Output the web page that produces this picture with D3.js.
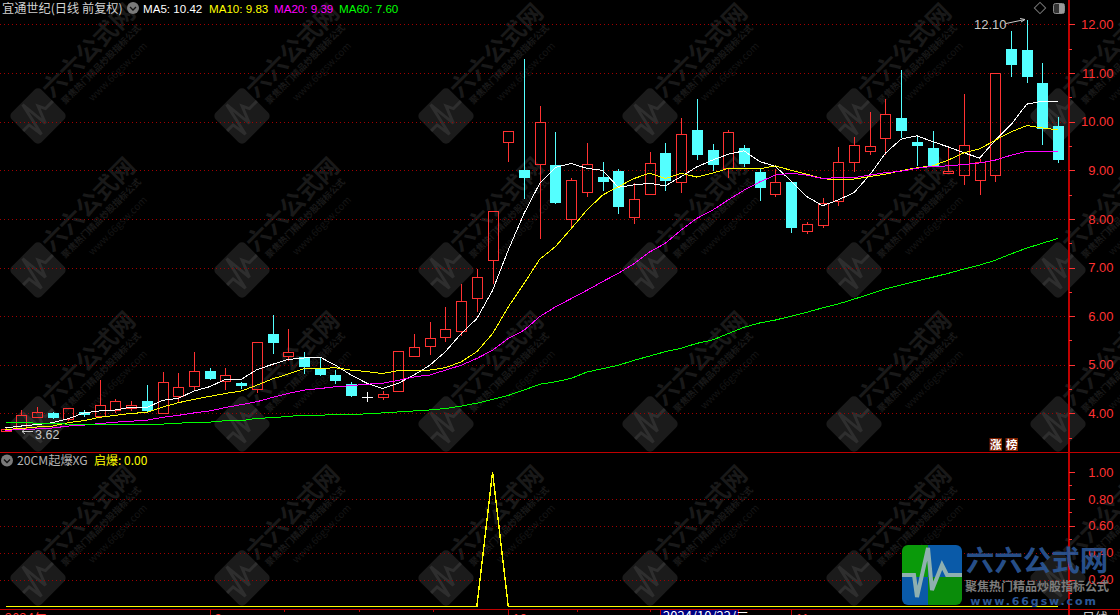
<!DOCTYPE html>
<html><head><meta charset="utf-8">
<style>html,body{margin:0;padding:0;background:#000;overflow:hidden}svg{display:block}
text{font-family:"Liberation Sans","Noto Sans CJK SC",sans-serif}
</style>
<script src="https://cdn.jsdelivr.net/npm/d3@7/dist/d3.min.js"></script></head><body><div id="c"></div>
<script>
const opens=[3.64,3.675,3.928,3.998,3.875,4.039,3.928,4.06,4.121,4.251,3.998,4.36,4.545,4.868,4.656,4.621,4.492,5.63,5.163,5.15,4.924,4.786,4.595,4.333,4.319,4.442,5.163,5.377,5.554,5.677,6.356,7.138,9.574,9.004,9.113,9.107,7.982,8.537,8.86,8.984,8.023,8.496,9.354,8.743,9.827,9.416,9.045,9.457,8.963,8.496,8.757,7.735,7.879,8.366,9.154,9.381,9.648,10.074,9.58,9.457,8.942,8.887,8.784,8.887,11.494,11.473,10.794,9.909];
const closes=[3.685,3.957,4.039,3.901,4.101,3.984,4.163,4.245,4.183,4.052,4.636,4.553,4.862,4.704,4.78,4.56,5.459,5.444,5.253,4.945,4.786,4.663,4.354,4.333,4.389,5.274,5.356,5.541,5.726,6.302,6.796,8.154,9.8,8.839,9.986,8.325,8.792,9.121,8.757,8.243,8.401,9.142,8.778,9.739,9.313,9.107,9.78,9.128,8.634,8.751,7.811,7.887,8.331,9.163,9.512,9.492,10.15,9.807,9.498,9.086,8.984,9.512,9.163,10.994,11.165,10.918,9.848,9.21];
const highs=[3.70,4.066,4.128,4.025,4.101,4.06,4.683,4.286,4.245,4.574,4.842,4.821,5.259,4.93,4.93,4.656,5.459,6.021,5.732,5.259,5.15,4.889,4.636,4.436,4.451,5.274,5.63,5.877,6.191,6.658,6.967,8.154,9.8,11.288,10.321,9.786,8.84,9.553,9.163,9.025,8.73,9.368,9.56,10.074,10.459,9.539,9.827,9.518,9.025,9.018,8.757,7.934,8.422,9.477,9.683,10.197,10.465,11.062,9.724,9.807,9.457,10.568,9.23,10.994,11.864,12.10,11.206,10.095];
const lows=[3.62,3.654,3.916,3.887,3.84,3.928,3.928,3.998,4.052,4.004,3.998,4.237,4.457,4.683,4.477,4.504,4.422,5.218,5.074,4.807,4.765,4.601,4.333,4.23,4.272,4.442,5.163,5.198,5.471,5.595,6.088,6.658,9.175,8.407,7.591,8.311,7.837,8.455,8.566,8.099,7.893,8.496,8.572,8.531,9.21,8.99,8.839,9.066,8.366,8.455,7.714,7.687,7.811,8.263,8.963,9.313,9.313,9.663,9.086,9.072,8.936,8.695,8.49,8.757,10.918,10.794,9.518,9.148];
const ma5=[3.70,3.74,3.77,3.81,3.89,4.01,4.05,4.07,4.13,4.12,4.27,4.31,4.46,4.55,4.70,4.70,4.90,5.01,5.11,5.14,5.16,4.99,4.79,4.62,4.51,4.62,4.79,4.99,5.27,5.64,5.95,6.53,7.36,8.11,8.73,9.06,9.14,9.04,9.00,8.65,8.70,8.73,8.68,8.87,9.07,9.21,9.33,9.40,9.18,9.08,8.78,8.46,8.27,8.39,8.54,8.90,9.35,9.64,9.71,9.59,9.48,9.36,9.25,9.62,9.94,10.36,10.42,10.42];
const ma10=[3.67,3.69,3.72,3.74,3.81,3.85,3.92,3.96,4.00,4.02,4.13,4.22,4.29,4.35,4.41,4.46,4.58,4.71,4.81,4.92,4.92,4.94,4.89,4.86,4.82,4.88,4.88,4.89,4.94,5.06,5.27,5.64,6.19,6.67,7.17,7.43,7.80,8.18,8.49,8.66,8.83,8.94,8.83,8.94,8.86,8.94,9.04,9.04,9.03,9.09,9.00,8.92,8.83,8.80,8.82,8.87,8.92,8.99,9.05,9.09,9.21,9.36,9.44,9.62,9.79,9.92,9.87,9.83];
const ma20=[3.65,3.67,3.68,3.70,3.74,3.76,3.79,3.82,3.84,3.86,3.92,3.96,4.01,4.05,4.12,4.18,4.24,4.33,4.41,4.48,4.51,4.55,4.57,4.60,4.62,4.68,4.75,4.79,4.89,4.99,5.13,5.30,5.54,5.71,5.99,6.19,6.36,6.53,6.71,6.88,7.08,7.32,7.50,7.77,8.01,8.18,8.39,8.59,8.76,8.90,8.94,8.90,8.83,8.85,8.85,8.90,8.95,8.98,9.04,9.08,9.09,9.12,9.15,9.21,9.31,9.39,9.39,9.39];
const ma60=[3.81,3.81,3.80,3.79,3.78,3.78,3.78,3.77,3.77,3.77,3.78,3.80,3.81,3.82,3.85,3.85,3.90,3.91,3.94,3.96,3.96,3.98,3.98,3.99,4.01,4.03,4.05,4.07,4.10,4.15,4.21,4.29,4.37,4.48,4.60,4.65,4.72,4.85,4.92,4.99,5.09,5.18,5.27,5.34,5.44,5.51,5.64,5.77,5.86,5.92,6.00,6.08,6.17,6.25,6.35,6.45,6.56,6.64,6.72,6.80,6.88,6.97,7.05,7.15,7.28,7.40,7.50,7.60];
const signal=[0,0,0,0,0,0,0,0,0,0,0,0,0,0,0,0,0,0,0,0,0,0,0,0,0,0,0,0,0,0,0,1,0,0,0,0,0,0,0,0,0,0,0,0,0,0,0,0,0,0,0,0,0,0,0,0,0,0,0,0,0,0,0,0,0,0,0,0];
const priceTicks=[4,5,6,7,8,9,10,11,12];
const priceMinor=[3.5,4.5,5.5,6.5,7.5,8.5,9.5,10.5,11.5];
const signalTicks=[0.2,0.4,0.6,0.8,1.0];
const signalMinor=[0.1,0.3,0.5,0.7,0.9];
const majorDates=[{i:13,label:"9"},{i:32,label:"10"},{i:50,label:"11"}];
const minorDates=[17.75,22.5,27.2,36.4,41];
const title="宜通世纪(日线 前复权)";
const maLegend=[["MA5: 10.42","#ffffff",143],["MA10: 9.83","#ffff00",209],["MA20: 9.39","#ff00ff",274],["MA60: 7.60","#00ff00",339]];

const W=1120,H=615,axisX=1068.5,RED="#ff3232",CY="#54ffff",LINE="#c00000",GRID="#a00000";
const svg=d3.select("#c").append("svg").attr("width",W).attr("height",H);
svg.append("rect").attr("width",W).attr("height",H).attr("fill","#000");
const x=d3.scaleLinear().domain([0,67]).range([5.5,1058.2]);
const px=i=>Math.round(x(i))+0.5;
const y=d3.scaleLinear().domain([4,12]).range([413.4,24.4]);
const ys=d3.scaleLinear().domain([0,1]).range([606.5,472]);
const n=opens.length, idx=d3.range(n);

// watermark tiles
const pulse=[[-30,0],[-18,0],[-15,22],[-4,-27],[0,15],[10,-10],[15,0],[30,0]];
const wm=svg.append("g");
for(const ty of [-38,116,270,424,578]) for(const tx of [38,242,446,650,854,1058]){
  const g=wm.append("g").attr("transform",`translate(${tx},${ty})`);
  const d=g.append("g").attr("transform","rotate(-45)");
  d.append("rect").attr("x",-21).attr("y",-21).attr("width",42).attr("height",42).attr("rx",5).attr("fill","#1b1b1b");
  d.append("path").attr("d",d3.line()(pulse.map(p=>[p[0]*.7,p[1]*.7]))).attr("fill","none").attr("stroke","#2e2e2e").attr("stroke-width",3);
  const t=(dx,dy,s,fs,w,fill)=>g.append("text").attr("transform",`translate(${dx},${dy}) rotate(-45)`).attr("text-anchor","middle").attr("dominant-baseline","central").attr("font-size",fs).attr("font-weight",w).attr("fill",fill).style("font-family",'"Noto Sans CJK SC"').text(s);
  t(49,-67,"六六公式网",24,700,"#191919");
  t(63,-52,"聚焦热门精品炒股指标公式",9,700,"#191919");
  t(79,-45,"www.66gsw.com",10,400,"#151515");
}

// grid
const grid=svg.append("g").attr("shape-rendering","crispEdges");
grid.selectAll(".gp").data(priceTicks).join("line").attr("x1",0).attr("x2",axisX).attr("y1",d=>Math.round(y(d))+.5).attr("y2",d=>Math.round(y(d))+.5)
  .attr("stroke",GRID).attr("stroke-dasharray","1 3");
grid.selectAll(".gs").data(signalTicks.filter(d=>d<1)).join("line").attr("x1",0).attr("x2",axisX).attr("y1",d=>Math.round(ys(d))+.5).attr("y2",d=>Math.round(ys(d))+.5)
  .attr("stroke",GRID).attr("stroke-dasharray","1 3");

// candles
const candles=svg.append("g").attr("shape-rendering","crispEdges");
idx.forEach(i=>{
  const o=opens[i],c=closes[i],hi=highs[i],lo=lows[i],cx=px(i);
  const up=c>o, doji=c===o;
  const col=doji?"#ffffff":(up?RED:CY);
  const top=y(Math.max(o,c)),bot=y(Math.min(o,c));
  candles.append("line").attr("x1",cx).attr("x2",cx).attr("y1",y(hi)).attr("y2",top).attr("stroke",col);
  candles.append("line").attr("x1",cx).attr("x2",cx).attr("y1",bot).attr("y2",y(lo)).attr("stroke",col);
  if(doji){
    candles.append("line").attr("x1",cx-5.5).attr("x2",cx+5.5).attr("y1",Math.round(top)+.5).attr("y2",Math.round(top)+.5).attr("stroke",col);
  }else if(up){
    candles.append("rect").attr("x",cx-5).attr("width",10).attr("y",Math.round(top)+.5).attr("height",Math.max(1,Math.round(bot-top))).attr("fill","none").attr("stroke",col);
  }else{
    candles.append("rect").attr("x",cx-5.5).attr("width",11).attr("y",Math.round(top)).attr("height",Math.max(1,Math.round(bot-top))).attr("fill",col);
  }
});

// moving averages
const lineGen=d3.line().x((d,i)=>x(i)).y(d=>y(d));
const mas=[[ma5,"#ffffff"],[ma10,"#ffff00"],[ma20,"#ff00ff"],[ma60,"#00ff00"]];
svg.append("g").attr("shape-rendering","crispEdges").selectAll("path").data(mas).join("path")
  .attr("d",d=>lineGen(d[0])).attr("fill","none").attr("stroke",d=>d[1]).attr("stroke-width",1);

// signal
const sigGen=d3.line().x((d,i)=>x(i)).y(d=>ys(d));
svg.append("path").attr("shape-rendering","crispEdges").attr("d",sigGen(signal)).attr("fill","none").attr("stroke","#ffff00").attr("stroke-width",1.4);

// frame
const frame=svg.append("g").attr("shape-rendering","crispEdges").attr("stroke",LINE);
frame.append("line").attr("x1",0).attr("x2",W).attr("y1",452.5).attr("y2",452.5);
frame.append("line").attr("x1",0).attr("x2",W).attr("y1",609.5).attr("y2",609.5);
frame.append("line").attr("x1",axisX).attr("x2",axisX).attr("y1",0).attr("y2",H).attr("stroke-width",2);
frame.append("line").attr("x1",1118.5).attr("x2",1118.5).attr("y1",609).attr("y2",H);

// axes
function styleAxis(g,labels){
  g.attr("shape-rendering","crispEdges");
  g.select(".domain").remove();
  g.selectAll(".tick line").attr("stroke",RED);
  g.selectAll(".tick text").attr("fill",RED).attr("text-anchor","end").attr("x",45).attr("font-size",13).style("font-family",'"Liberation Sans"');
  if(!labels) g.selectAll(".tick text").remove();
}
const axG=svg.append("g").attr("transform",`translate(${axisX},0)`);
axG.append("g").call(d3.axisRight(y).tickValues(priceTicks).tickSize(6).tickFormat(d3.format(".2f"))).call(styleAxis,true);
axG.append("g").call(d3.axisRight(y).tickValues(priceMinor).tickSize(3)).call(styleAxis,false);
axG.append("g").call(d3.axisRight(ys).tickValues(signalTicks).tickSize(6).tickFormat(d3.format(".2f"))).call(styleAxis,true);
axG.append("g").call(d3.axisRight(ys).tickValues(signalMinor).tickSize(3)).call(styleAxis,false);

// header
const chev=(cx,cy)=>{
  svg.append("circle").attr("cx",cx).attr("cy",cy).attr("r",6).attr("fill","#7a7a7a");
  svg.append("path").attr("d",`M${cx-3},${cy-1}L${cx},${cy+2}L${cx+3},${cy-1}`).attr("fill","none").attr("stroke","#111").attr("stroke-width",1.3);
};
svg.append("text").attr("x",2).attr("y",12.5).attr("font-size",12.2).attr("fill","#d0d0d0").style("font-family",'"Noto Sans CJK SC"').text(title);
chev(133,8);
svg.selectAll(".leg").data(maLegend).join("text").attr("x",d=>d[2]).attr("y",12.5).attr("font-size",11.6).attr("fill",d=>d[1]).text(d=>d[0]);
chev(7,460.5);
svg.append("text").attr("x",17).attr("y",465).attr("font-size",12.2).attr("fill","#b4b4b4").style("font-family",'"Noto Sans CJK SC"').text("20CM起爆XG");
svg.append("text").attr("x",94).attr("y",465).attr("font-size",12).attr("fill","#ffff00").style("font-family",'"Noto Sans CJK SC"').text("启爆: 0.00");

// top-right icons
svg.append("rect").attr("x",1036).attr("y",4).attr("width",8).attr("height",8).attr("transform","rotate(45 1040 8)").attr("fill","none").attr("stroke","#777");
svg.append("rect").attr("x",1053.5).attr("y",3.5).attr("width",11).attr("height",10).attr("rx",2).attr("fill","#333").attr("stroke","#888");
svg.append("rect").attr("x",1059).attr("y",4).attr("width",5).attr("height",9).attr("fill","#999");

// high / low markers
svg.append("text").attr("x",974).attr("y",29).attr("font-size",13).attr("fill","#c8c8c8").text("12.10");
svg.append("path").attr("d","M1006,23.5L1025,19.5M1020,18.5L1025,19.5L1021,22").attr("fill","none").attr("stroke","#c8c8c8");
svg.append("path").attr("d","M33,431.5H22M25,429L22,431.5L25,434").attr("fill","none").attr("stroke","#c8c8c8");
svg.append("text").attr("x",35).attr("y",439).attr("font-size",12.5).attr("fill","#c8c8c8").text("3.62");

// tags
[[989.5,"涨"],[1005.5,"榜"]].forEach(d=>{
  svg.append("rect").attr("x",d[0]).attr("y",438).attr("width",12.5).attr("height",13).attr("fill","#7a1e00");
  svg.append("text").attr("x",d[0]+6.2).attr("y",449).attr("text-anchor","middle").attr("font-size",11.5).attr("font-weight",700).attr("fill","#fff").style("font-family",'"Noto Sans CJK SC"').text(d[1]);
});

// date axis
const da=svg.append("g").attr("shape-rendering","crispEdges");
majorDates.forEach(d=>{
  const X=Math.round(x(d.i))+.5;
  da.append("line").attr("x1",X).attr("x2",X).attr("y1",609).attr("y2",H).attr("stroke",LINE);
  svg.append("text").attr("x",X+4).attr("y",623).attr("font-size",13).attr("fill",RED).text(d.label);
});
minorDates.forEach(d=>{const X=Math.round(x(d))+.5;da.append("line").attr("x1",X).attr("x2",X).attr("y1",609).attr("y2",612).attr("stroke",LINE);});
svg.append("text").attr("x",5).attr("y",623).attr("font-size",13).attr("fill",RED).style("font-family",'"Noto Sans CJK SC"').text("2024年");
svg.append("rect").attr("x",660.5).attr("y",609.5).attr("width",78).attr("height",8).attr("fill","#000080").attr("stroke",LINE);
svg.append("text").attr("x",663).attr("y",621).attr("font-size",13).attr("fill","#ffffff").style("font-family",'"Noto Sans CJK SC"').text("2024/10/22/二");
svg.append("text").attr("x",1082).attr("y",622).attr("font-size",13).attr("fill","#c8c8c8").style("font-family",'"Noto Sans CJK SC"').text("日线");

// corner logo
const cp=svg.append("clipPath").attr("id","lg");
cp.append("rect").attr("x",902).attr("y",545).attr("width",60).attr("height",60).attr("rx",6);
const lg=svg.append("g").attr("clip-path","url(#lg)");
lg.append("rect").attr("x",902).attr("y",545).attr("width",26).attr("height",32).attr("fill","#0a9a0a");
lg.append("rect").attr("x",928).attr("y",545).attr("width",34).attr("height",32).attr("fill","#0a5aa8");
lg.append("rect").attr("x",902).attr("y",577).attr("width",26).attr("height",28).attr("fill","#0a5aa8");
lg.append("rect").attr("x",928).attr("y",577).attr("width",34).attr("height",28).attr("fill","#0a8c0a");
lg.append("path").attr("d",d3.line()(pulse.map(p=>[932+p[0],575+p[1]*1.0]))).attr("fill","none").attr("stroke","#8fb0b0").attr("stroke-width",4);
svg.append("text").attr("x",1037).attr("y",571).attr("text-anchor","middle").attr("font-size",28.5).attr("font-weight",700).attr("fill","#2b5797").attr("fill-opacity",.92).style("font-family",'"Noto Sans CJK SC"').text("六六公式网");
svg.append("text").attr("x",1037).attr("y",591).attr("text-anchor","middle").attr("font-size",12).attr("font-weight",700).attr("fill","#7c7c7c").style("font-family",'"Noto Sans CJK SC"').text("聚焦热门精品炒股指标公式");
svg.append("text").attr("x",1034).attr("y",605).attr("text-anchor","middle").attr("font-size",11).attr("font-weight",700).attr("letter-spacing",1.9).attr("fill","#2b5797").style("font-family",'"DejaVu Sans"').text("www.66gsw.com");
</script></body></html>
